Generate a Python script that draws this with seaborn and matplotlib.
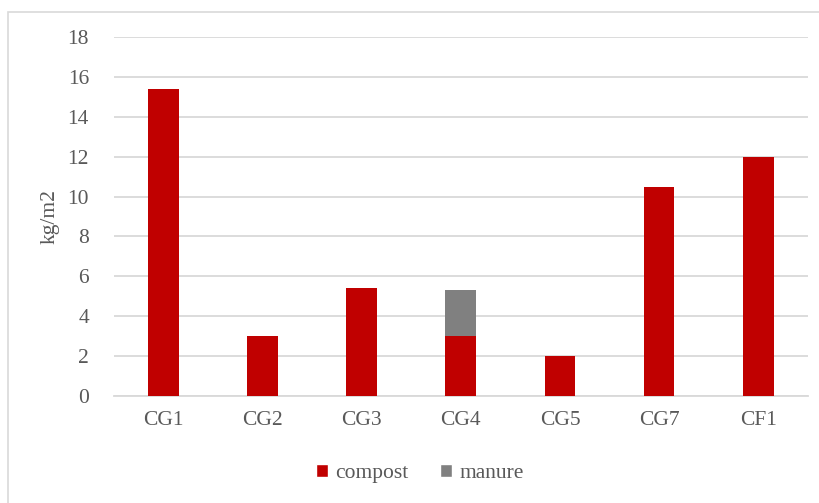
import matplotlib
matplotlib.use("Agg")
import matplotlib.pyplot as plt
import seaborn as sns
import pandas as pd
from matplotlib.patches import Patch, Rectangle

# Fertiliser input per plot (kg/m2)
sites = ["CG1", "CG2", "CG3", "CG4", "CG5", "CG7", "CF1"]
compost = [15.4, 3.0, 5.4, 3.0, 2.0, 10.5, 12.0]
manure = [0.0, 0.0, 0.0, 2.3, 0.0, 0.0, 0.0]
y_ticks = [0, 2, 4, 6, 8, 10, 12, 14, 16, 18]

RED = "#c00000"
GREY = "#808080"
TEXT = "#595959"
GRID = "#d9d9d9"
FS = 15.5

sns.set_theme(style="white")
plt.rcParams["font.family"] = ["Liberation Serif", "DejaVu Serif"]

df = pd.DataFrame({"site": sites, "compost": compost, "manure": manure})
df["total"] = df["compost"] + df["manure"]

fig = plt.figure(figsize=(8.2, 5.03), dpi=100)
ax = fig.add_axes([0.139, 0.2127, 0.846, 0.7137])

# stacked bars: total (manure on top) drawn first, compost over it
sns.barplot(data=df, x="site", y="total", color=GREY, width=0.31,
            saturation=1, linewidth=0, ax=ax, zorder=3)
sns.barplot(data=df, x="site", y="compost", color=RED, width=0.31,
            saturation=1, linewidth=0, ax=ax, zorder=4)

ax.set_ylim(0, 18)
ax.set_xlim(-0.5, len(sites) - 0.5)
ax.set_yticks(y_ticks)
ax.yaxis.grid(True, color=GRID, linewidth=1.3, zorder=0)
ax.xaxis.grid(False)
for s in ["top", "right", "left"]:
    ax.spines[s].set_visible(False)
ax.spines["bottom"].set_color(GRID)
ax.spines["bottom"].set_linewidth(1.3)
ax.tick_params(axis="both", length=0, labelsize=FS, labelcolor=TEXT)
ax.tick_params(axis="y", pad=18)
ax.tick_params(axis="x", pad=11)
ax.set_xlabel("")
ax.set_ylabel("kg/m2", fontsize=FS, color=TEXT, labelpad=6)

handles = [Patch(facecolor=RED, label="compost"),
           Patch(facecolor=GREY, label="manure")]
fig.legend(handles=handles, loc="center", bbox_to_anchor=(0.512, 0.058),
           ncol=2, frameon=False, fontsize=FS, labelcolor=TEXT,
           handlelength=0.55, handleheight=0.55, handletextpad=0.35,
           columnspacing=1.45)

# outer chart frame
fig.patches.append(Rectangle((8 / 820, -0.1), 1.2, 1 - 12 / 503 + 0.1,
                             transform=fig.transFigure, fill=False,
                             edgecolor="#d9d9d9", linewidth=1.2))

fig.savefig("out.png", dpi=100)
